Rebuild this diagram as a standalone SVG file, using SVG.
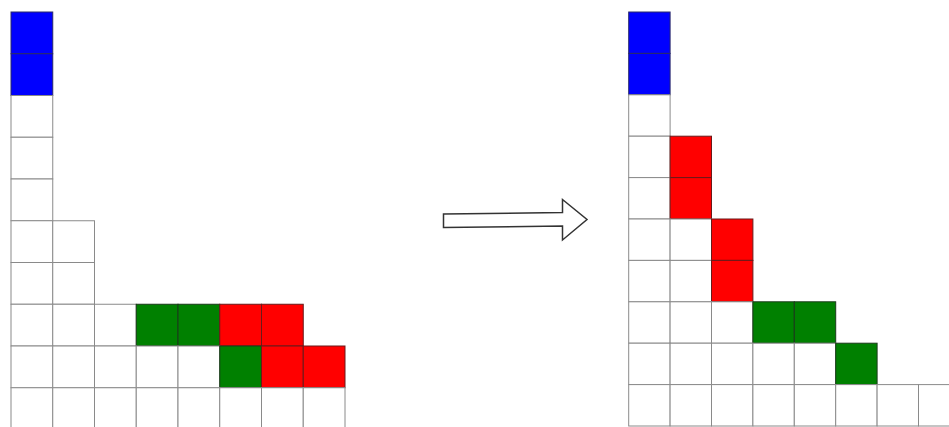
<svg xmlns="http://www.w3.org/2000/svg" width="949" height="427" viewBox="0 0 949 427">
<style>
.w{fill:#ffffff;stroke:#8a8a8a;stroke-width:1}
.b{fill:#0000ff;stroke:#2a2a6a;stroke-width:1}
.r{fill:#ff0000;stroke:#6a1a1a;stroke-width:1}
.g{fill:#008000;stroke:#1a3a1a;stroke-width:1}
.arrow{fill:#ffffff;stroke:#333333;stroke-width:1.5;stroke-linejoin:miter}
</style>
<rect x="0" y="0" width="949" height="427" fill="#ffffff"/>
<g id="left-grid" transform="translate(11,12)">
<rect class="b" x="0" y="0" width="41.75" height="41.75"/>
<rect class="b" x="0" y="41.75" width="41.75" height="41.75"/>
<rect class="w" x="0" y="83.5" width="41.75" height="41.75"/>
<rect class="w" x="0" y="125.25" width="41.75" height="41.75"/>
<rect class="w" x="0" y="167" width="41.75" height="41.75"/>
<rect class="w" x="0" y="208.75" width="41.75" height="41.75"/>
<rect class="w" x="41.75" y="208.75" width="41.75" height="41.75"/>
<rect class="w" x="0" y="250.5" width="41.75" height="41.75"/>
<rect class="w" x="41.75" y="250.5" width="41.75" height="41.75"/>
<rect class="w" x="0" y="292.25" width="41.75" height="41.75"/>
<rect class="w" x="41.75" y="292.25" width="41.75" height="41.75"/>
<rect class="w" x="83.5" y="292.25" width="41.75" height="41.75"/>
<rect class="g" x="125.25" y="292.25" width="41.75" height="41.75"/>
<rect class="g" x="167" y="292.25" width="41.75" height="41.75"/>
<rect class="r" x="208.75" y="292.25" width="41.75" height="41.75"/>
<rect class="r" x="250.5" y="292.25" width="41.75" height="41.75"/>
<rect class="w" x="0" y="334" width="41.75" height="41.75"/>
<rect class="w" x="41.75" y="334" width="41.75" height="41.75"/>
<rect class="w" x="83.5" y="334" width="41.75" height="41.75"/>
<rect class="w" x="125.25" y="334" width="41.75" height="41.75"/>
<rect class="w" x="167" y="334" width="41.75" height="41.75"/>
<rect class="g" x="208.75" y="334" width="41.75" height="41.75"/>
<rect class="r" x="250.5" y="334" width="41.75" height="41.75"/>
<rect class="r" x="292.25" y="334" width="41.75" height="41.75"/>
<rect class="w" x="0" y="375.75" width="41.75" height="41.75"/>
<rect class="w" x="41.75" y="375.75" width="41.75" height="41.75"/>
<rect class="w" x="83.5" y="375.75" width="41.75" height="41.75"/>
<rect class="w" x="125.25" y="375.75" width="41.75" height="41.75"/>
<rect class="w" x="167" y="375.75" width="41.75" height="41.75"/>
<rect class="w" x="208.75" y="375.75" width="41.75" height="41.75"/>
<rect class="w" x="250.5" y="375.75" width="41.75" height="41.75"/>
<rect class="w" x="292.25" y="375.75" width="41.75" height="41.75"/>
</g>
<g id="connectors">
<g id="arrow">
<polygon class="arrow" points="443.5,214 562.5,212.5 562.5,199.5 587,219.5 562.5,240 562.5,226 443.5,227.5"/>
</g>
</g>
<g id="right-grid" transform="translate(628.7,12)">
<rect class="b" x="0" y="0" width="41.4" height="41.4"/>
<rect class="b" x="0" y="41.4" width="41.4" height="41.4"/>
<rect class="w" x="0" y="82.8" width="41.4" height="41.4"/>
<rect class="w" x="0" y="124.2" width="41.4" height="41.4"/>
<rect class="r" x="41.4" y="124.2" width="41.4" height="41.4"/>
<rect class="w" x="0" y="165.6" width="41.4" height="41.4"/>
<rect class="r" x="41.4" y="165.6" width="41.4" height="41.4"/>
<rect class="w" x="0" y="207" width="41.4" height="41.4"/>
<rect class="w" x="41.4" y="207" width="41.4" height="41.4"/>
<rect class="r" x="82.8" y="207" width="41.4" height="41.4"/>
<rect class="w" x="0" y="248.4" width="41.4" height="41.4"/>
<rect class="w" x="41.4" y="248.4" width="41.4" height="41.4"/>
<rect class="r" x="82.8" y="248.4" width="41.4" height="41.4"/>
<rect class="w" x="0" y="289.8" width="41.4" height="41.4"/>
<rect class="w" x="41.4" y="289.8" width="41.4" height="41.4"/>
<rect class="w" x="82.8" y="289.8" width="41.4" height="41.4"/>
<rect class="g" x="124.2" y="289.8" width="41.4" height="41.4"/>
<rect class="g" x="165.6" y="289.8" width="41.4" height="41.4"/>
<rect class="w" x="0" y="331.2" width="41.4" height="41.4"/>
<rect class="w" x="41.4" y="331.2" width="41.4" height="41.4"/>
<rect class="w" x="82.8" y="331.2" width="41.4" height="41.4"/>
<rect class="w" x="124.2" y="331.2" width="41.4" height="41.4"/>
<rect class="w" x="165.6" y="331.2" width="41.4" height="41.4"/>
<rect class="g" x="207" y="331.2" width="41.4" height="41.4"/>
<rect class="w" x="0" y="372.6" width="41.4" height="41.4"/>
<rect class="w" x="41.4" y="372.6" width="41.4" height="41.4"/>
<rect class="w" x="82.8" y="372.6" width="41.4" height="41.4"/>
<rect class="w" x="124.2" y="372.6" width="41.4" height="41.4"/>
<rect class="w" x="165.6" y="372.6" width="41.4" height="41.4"/>
<rect class="w" x="207" y="372.6" width="41.4" height="41.4"/>
<rect class="w" x="248.4" y="372.6" width="41.4" height="41.4"/>
<rect class="w" x="289.8" y="372.6" width="41.4" height="41.4"/>
</g>
</svg>
